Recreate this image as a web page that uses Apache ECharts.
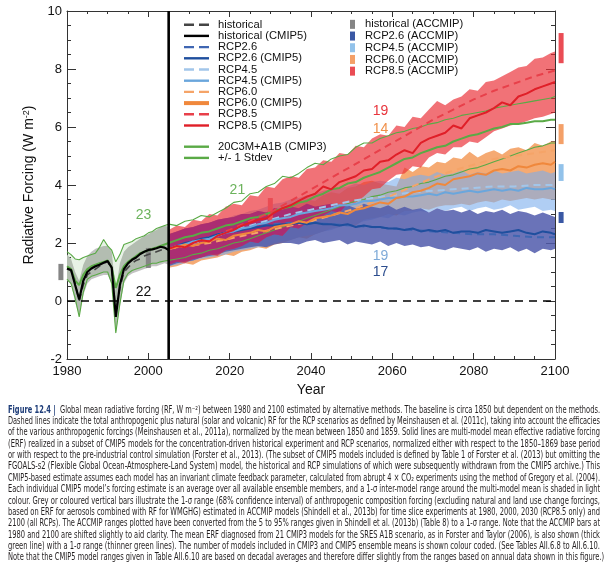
<!DOCTYPE html>
<html><head><meta charset="utf-8">
<script src="https://cdn.jsdelivr.net/npm/echarts@6/dist/echarts.min.js"></script>
<style>html,body{margin:0;padding:0;background:#fff}#c{width:607px;height:580px}</style>
</head><body><div id="c"></div>
<script>
// ---------------- DATA ----------------
const histYears = [1980,1981,1982,1983,1984,1985,1986,1987,1988,1989,1990,1991,1992,1993,1994,1995,1996,1997,1998,1999,2000,2001,2002,2003,2004,2005];
const histRF   = [1.1,1.05,0.6,0.0,0.55,0.9,1.0,1.1,1.2,1.3,1.35,1.1,-0.35,0.45,1.0,1.15,1.3,1.4,1.45,1.55,1.6,1.65,1.7,1.75,1.8,1.8];
const histERF  = [1.12,1.07,0.55,0.05,0.7,1.0,1.12,1.2,1.25,1.32,1.38,1.15,-0.55,0.55,1.1,1.3,1.42,1.5,1.62,1.7,1.76,1.78,1.82,1.87,1.84,1.76];
const histHi   = [1.6,1.45,1.0,0.7,1.25,1.55,1.7,1.8,1.85,1.9,1.9,1.7,0.35,1.3,1.7,1.85,1.95,2.05,2.15,2.25,2.3,2.4,2.45,2.55,2.6,2.55];
const histLo   = [0.7,0.6,-0.05,-0.5,0.2,0.6,0.75,0.8,0.85,0.9,0.9,0.6,-1.15,-0.2,0.6,0.85,0.95,1.0,1.05,1.1,1.15,1.2,1.2,1.25,1.3,1.25];

// CMIP3 (1980-2004 annual)
const g3HistYears = [1980,1981,1982,1983,1984,1985,1986,1987,1988,1989,1990,1991,1992,1993,1994,1995,1996,1997,1998,1999,2000,2001,2002,2003,2004];
const g3HistMean = [1.2,1.1,0.7,0.55,0.9,1.1,1.2,1.25,1.3,1.35,1.4,1.15,0.45,0.9,1.2,1.35,1.45,1.55,1.65,1.7,1.75,1.8,1.85,1.9,1.95];
const g3HistHi   = [1.7,1.6,1.45,1.42,1.5,1.55,1.6,1.65,1.85,2.12,1.9,1.75,1.35,1.6,1.95,2.0,2.05,2.15,2.2,2.25,2.35,2.4,2.5,2.55,2.6];
const g3HistLo   = [0.75,0.6,0.1,-0.55,0.3,0.75,0.85,0.9,0.95,1.0,1.0,0.6,-1.1,-0.1,0.7,0.95,1.05,1.1,1.15,1.2,1.25,1.3,1.3,1.35,1.38];

const projYears = [2005,2007,2009,2011,2013,2015,2017,2019,2021,2023,2025,2027,2029,2031,2033,2035,2037,2039,2041,2043,2045,2047,2049,2051,2053,2055,2057,2059,2061,2063,2065,2067,2069,2071,2073,2075,2077,2079,2081,2083,2085,2087,2089,2091,2093,2095,2097,2099,2100];

const g3Mean = [2.0,2.1,2.2,2.25,2.35,2.4,2.5,2.6,2.65,2.75,2.85,2.9,3.0,3.1,3.2,3.25,3.4,3.45,3.6,3.7,3.85,3.9,4.05,4.1,4.25,4.35,4.45,4.6,4.75,4.9,4.95,5.1,5.2,5.3,5.35,5.5,5.6,5.7,5.75,5.85,5.95,6.0,6.1,6.1,6.15,6.2,6.2,6.25,6.25];
const g3Hi   = [2.65,2.6,2.75,2.8,2.95,2.9,3.05,3.2,3.4,3.45,3.7,3.75,3.95,4.05,4.3,4.25,4.4,4.6,4.75,4.7,4.9,5.0,5.05,5.3,5.45,5.45,5.6,5.7,5.8,5.85,5.95,6.0,6.1,6.15,6.25,6.3,6.4,6.45,6.5,6.55,6.65,6.7,6.75,6.8,6.85,6.9,6.95,7.0,7.05];
const g3Lo   = [1.4,1.45,1.5,1.6,1.65,1.75,1.8,1.9,2.0,2.05,2.15,2.25,2.35,2.45,2.55,2.65,2.75,2.85,2.95,3.05,3.15,3.25,3.35,3.45,3.5,3.6,3.65,3.75,3.8,3.9,3.95,4.05,4.1,4.2,4.3,4.35,4.45,4.55,4.6,4.7,4.8,4.9,5.0,5.1,5.2,5.3,5.35,5.45,5.45];

const r85Hi   = [2.45,2.6,2.55,2.8,2.75,3.0,2.95,3.25,3.35,3.3,3.65,3.6,3.95,3.9,4.2,4.3,4.25,4.55,4.6,4.85,4.8,5.1,5.05,5.35,5.3,5.6,5.75,5.7,6.05,6.0,6.35,6.3,6.6,6.9,6.75,6.95,7.05,7.3,7.25,7.55,7.6,7.75,7.9,8.05,8.1,8.35,8.4,8.55,8.6];
const r85Lo   = [1.25,1.35,1.3,1.45,1.5,1.6,1.55,1.75,1.8,1.9,2.05,2.0,2.2,2.3,2.25,2.55,2.5,2.7,2.8,2.95,3.1,3.05,3.35,3.4,3.6,3.85,3.9,4.15,4.35,4.4,4.65,4.6,4.95,5.1,5.05,5.3,5.3,5.5,5.45,5.65,5.85,5.95,6.05,6.1,6.2,6.3,6.35,6.45,6.5];
const r85Mean = [1.8,1.9,1.85,2.0,2.1,2.05,2.25,2.35,2.45,2.6,2.7,2.8,2.85,3.05,3.2,3.3,3.45,3.6,3.7,3.95,3.85,4.1,4.2,4.3,4.5,4.55,4.8,4.85,5.05,5.2,5.1,5.45,5.6,5.7,5.8,6.05,5.95,6.3,6.4,6.5,6.65,6.85,6.75,7.05,7.15,7.3,7.4,7.5,7.55];

const r60Hi   = [2.3,2.35,2.5,2.45,2.6,2.7,2.65,2.8,2.85,2.9,3.0,3.05,3.0,3.2,3.15,3.35,3.4,3.5,3.45,3.65,3.75,3.7,3.9,3.95,4.1,4.15,4.05,4.0,3.95,4.6,4.45,4.65,4.6,4.8,4.75,4.95,4.9,5.15,4.95,5.1,5.2,5.05,5.25,5.3,5.2,5.45,5.35,5.5,5.5];
const r60Lo   = [1.15,1.2,1.3,1.25,1.4,1.45,1.5,1.6,1.55,1.7,1.75,1.85,1.8,1.95,2.0,2.1,2.2,2.15,2.3,2.4,2.5,2.55,2.65,2.6,2.8,2.85,2.9,3.0,2.95,3.1,3.1,3.2,3.15,3.25,3.3,3.3,3.35,3.3,3.4,3.45,3.4,3.5,3.45,3.5,3.55,3.5,3.55,3.5,3.5];
const r60Mean = [1.8,1.85,1.95,1.9,2.0,2.05,2.15,2.1,2.25,2.3,2.35,2.45,2.4,2.55,2.6,2.65,2.75,2.7,2.85,2.9,2.95,3.05,3.0,3.15,3.2,3.3,3.4,3.35,3.55,3.6,3.75,3.8,3.9,4.05,4.0,4.2,4.25,4.3,4.4,4.35,4.5,4.55,4.5,4.65,4.6,4.7,4.75,4.7,4.8];

const r45Hi   = [2.3,2.35,2.45,2.5,2.6,2.7,2.75,2.8,2.95,3.0,3.1,3.15,3.25,3.35,3.4,3.5,3.55,3.65,3.7,3.8,3.85,3.9,3.95,4.05,4.0,4.1,4.15,4.1,4.25,4.2,4.3,4.35,4.3,4.45,4.35,4.4,4.5,4.35,4.45,4.4,4.5,4.4,4.45,4.5,4.4,4.45,4.5,4.4,4.45];
const r45Lo   = [1.2,1.25,1.3,1.4,1.45,1.5,1.55,1.6,1.7,1.75,1.8,1.85,1.9,2.0,2.05,2.1,2.2,2.25,2.3,2.4,2.45,2.55,2.6,2.65,2.75,2.8,2.9,2.85,3.0,2.95,3.05,3.1,3.05,3.2,3.1,3.2,3.25,3.1,3.2,3.25,3.15,3.2,3.3,3.15,3.2,3.25,3.1,3.15,3.1];
const r45Mean = [1.8,1.9,1.95,2.05,2.1,2.15,2.25,2.35,2.4,2.5,2.55,2.65,2.7,2.8,2.85,2.9,3.0,3.05,3.1,3.15,3.2,3.3,3.3,3.35,3.45,3.45,3.5,3.55,3.55,3.6,3.6,3.65,3.7,3.65,3.75,3.7,3.75,3.8,3.75,3.8,3.85,3.8,3.85,3.8,3.9,3.85,3.85,3.9,3.85];

const r26Hi   = [2.3,2.4,2.5,2.55,2.65,2.7,2.8,2.85,2.9,3.0,3.0,3.1,3.05,3.2,3.15,3.25,3.2,3.35,3.25,3.3,3.35,3.25,3.3,3.2,3.35,3.25,3.2,3.3,3.15,3.25,3.15,3.2,3.05,3.2,3.1,3.15,3.05,3.15,3.0,3.1,3.05,3.15,3.0,3.1,3.05,2.95,3.05,2.95,2.9];
const r26Lo   = [1.2,1.3,1.35,1.4,1.5,1.55,1.6,1.7,1.75,1.8,1.85,1.9,1.85,1.95,2.0,2.0,1.95,2.05,2.1,2.0,2.05,2.1,1.95,2.05,2.0,1.95,2.05,1.9,2.0,1.9,1.95,1.85,1.9,1.8,1.75,1.85,1.8,1.75,1.85,1.7,1.8,1.75,1.85,1.7,1.8,1.65,1.8,1.75,1.8];
const r26Mean = [1.8,1.9,2.0,2.05,2.15,2.2,2.3,2.35,2.4,2.45,2.5,2.55,2.6,2.6,2.65,2.65,2.7,2.65,2.7,2.65,2.65,2.6,2.65,2.55,2.6,2.55,2.55,2.5,2.5,2.45,2.5,2.4,2.45,2.4,2.45,2.35,2.4,2.4,2.35,2.45,2.4,2.35,2.4,2.45,2.35,2.3,2.4,2.35,2.3];

// RCP radiative forcing (Meinshausen), dashed
const rfYears = [2005,2010,2015,2020,2025,2030,2035,2040,2045,2050,2055,2060,2065,2070,2075,2080,2085,2090,2095,2100];
const r26RF = [1.8,2.0,2.2,2.4,2.55,2.65,2.7,2.7,2.65,2.6,2.55,2.5,2.45,2.4,2.35,2.3,2.3,2.25,2.2,2.2];
const r45RF = [1.8,1.95,2.15,2.4,2.6,2.8,3.0,3.15,3.3,3.45,3.55,3.65,3.75,3.8,3.85,3.9,3.95,3.95,4.0,4.0];
const r60RF = [1.8,1.9,2.0,2.15,2.3,2.45,2.6,2.75,2.95,3.15,3.4,3.65,3.95,4.25,4.5,4.7,4.9,5.0,5.1,5.2];
const r85RF = [1.8,2.0,2.2,2.45,2.75,3.05,3.45,3.85,4.25,4.65,5.05,5.45,5.85,6.25,6.6,6.95,7.25,7.5,7.75,7.95];

// ACCMIP 1-sigma bars (year, low, high)
const accHistX = [1978.5, 2000];   const accHistLo = [0.72, 1.14]; const accHistHi = [1.28, 1.83];
const acc26X = [2101.5]; const acc26Lo = [2.69]; const acc26Hi = [3.07];
const acc45X = [2101.5]; const acc45Lo = [4.14]; const acc45Hi = [4.72];
const acc60X = [2101.5]; const acc60Lo = [5.41]; const acc60Hi = [6.10];
const acc85X = [2030, 2101.5]; const acc85Lo = [2.79, 8.20]; const acc85Hi = [3.55, 9.24];

// model-count annotations
const numX = [1998.8, 1998.8, 2021.9, 2057.1, 2057.1, 2057.1, 2057.1];
const numY = [2.97, 0.31, 3.83, 6.53, 5.93, 1.53, 0.98];
const numText = ['23','22','21','19','14','19','17'];

// ---------------- STYLE ----------------
const FONT = "'Liberation Sans', Arial, Helvetica, sans-serif";
const numColor = ['#6cb35c','#111111','#6cb35c','#e8343c','#f0904a','#7eaad8','#2c4d8e'];
const C = {
  hist:'#000000', histD:'#444444',
  r26:'#1f4f9e', r26d:'#3f66b2',
  r45:'#6aa6dc', r45d:'#a2c6ea',
  r60:'#f0883c', r60d:'#f5a468',
  r85:'#e01f28', r85d:'#e8404a',
  green:'#5aaa46'
};

const P = (xs, ys) => xs.map((x, i) => [x, ys[i]]);
// shaded range drawn as one polygon through the axes' own coordinate mapping
function band(id, xs, lo, hi, color, opacity) {
  return {type:'custom', name:id, silent:true, data:[[xs[0], lo[0]]],
    renderItem: function (params, api) {
      const pts = [];
      for (let i = 0; i < xs.length; i++) pts.push(api.coord([xs[i], hi[i]]));
      for (let i = xs.length - 1; i >= 0; i--) pts.push(api.coord([xs[i], lo[i]]));
      return {type:'polygon', shape:{points:pts}, style:{fill:color, opacity:opacity}};
    }};
}
function line(name, xs, ys, color, width, dash) {
  return {type:'line', name:name, data:P(xs, ys), symbol:'none', showSymbol:false, color:color,
    itemStyle:{color:color}, lineStyle:{color:color, width:width, type: dash ? [7,5] : 'solid'},
    silent:true, emphasis:{disabled:true}};
}
function accBars(name, xs, lo, hi, color) {
  return {type:'custom', name:name, color:color, itemStyle:{color:color}, silent:true,
    data: xs.map((x, i) => [x, lo[i], hi[i]]),
    renderItem: function (params, api) {
      const a = api.coord([api.value(0), api.value(2)]);
      const b = api.coord([api.value(0), api.value(1)]);
      return {type:'rect', shape:{x:a[0]-2.5, y:a[1], width:5, height:b[1]-a[1]}, style:{fill:color}};
    }};
}
// overlap of the RCP8.5 and RCP2.6 ranges (shown in the figure as a blended magenta)
const ovLo = r85Lo.map((v, i) => Math.max(v, r26Lo[i]));
const ovHi = r85Hi.map((v, i) => Math.max(ovLo[i], Math.min(v, r26Hi[i])));

const g3Years = g3HistYears.concat(projYears);
const series = [
  band('hb', histYears, histLo, histHi, '#c3c3c3', 1),
  band('gb', histYears, g3HistLo.concat([g3Lo[0]]), g3HistHi.concat([g3Hi[0]]), '#4f9a3f', 0.13),
  band('b60', projYears, r60Lo, r60Hi, 'rgb(245,170,115)', 1),
  band('b45', projYears, r45Lo, r45Hi, 'rgb(123,173,237)', 0.6),
  band('b26', projYears, r26Lo, r26Hi, 'rgb(80,90,172)', 0.85),
  line('+/- 1 Stdev', g3Years, g3HistHi.concat(g3Hi), C.green, 1.1, false),
  line('+/- 1 Stdev', g3Years, g3HistLo.concat(g3Lo), C.green, 1.1, false),
  line('20C3M+A1B (CMIP3)', g3Years, g3HistMean.concat(g3Mean), C.green, 2, false),
  band('b85', projYears, r85Lo, r85Hi, 'rgb(234,44,52)', 0.67),
  band('ov', projYears, ovLo, ovHi, 'rgb(168,42,118)', 0.85),
  line('RCP2.6', rfYears, r26RF, C.r26d, 2, true),
  line('RCP4.5', rfYears, r45RF, C.r45d, 2, true),
  line('RCP6.0', rfYears, r60RF, C.r60d, 2, true),
  line('RCP8.5', rfYears, r85RF, C.r85d, 2, true),
  line('RCP2.6 (CMIP5)', projYears, r26Mean, C.r26, 2, false),
  line('RCP4.5 (CMIP5)', projYears, r45Mean, C.r45, 2, false),
  line('RCP6.0 (CMIP5)', projYears, r60Mean, C.r60, 2, false),
  line('RCP8.5 (CMIP5)', projYears, r85Mean, C.r85, 2, false),
  line('historical', histYears, histRF, C.histD, 1.6, true),
  line('historical (CMIP5)', histYears, histERF, C.hist, 2.2, false),
  {type:'line', name:'zero', data:[[1980,0],[2100,0]], symbol:'none', silent:true,
   lineStyle:{color:'#000', width:1.3, type:[8,6]}},
  {type:'line', name:'v2005', data:[[2005,-2],[2005,10]], symbol:'none', silent:true,
   lineStyle:{color:'#000', width:2.6}},
  accBars('historical (ACCMIP)', accHistX, accHistLo, accHistHi, '#858585'),
  accBars('RCP2.6 (ACCMIP)', acc26X, acc26Lo, acc26Hi, '#3a58a4'),
  accBars('RCP4.5 (ACCMIP)', acc45X, acc45Lo, acc45Hi, '#92c2ea'),
  accBars('RCP6.0 (ACCMIP)', acc60X, acc60Lo, acc60Hi, '#f4a068'),
  accBars('RCP8.5 (ACCMIP)', acc85X, acc85Lo, acc85Hi, '#ea4c54'),
  {type:'custom', name:'nums', silent:true, data: numX.map((x, i) => [x, numY[i], i]),
   renderItem: function (params, api) {
     const p = api.coord([api.value(0), api.value(1)]);
     const k = api.value(2);
     return {type:'text', x:p[0], y:p[1], style:{text:numText[k], fill:numColor[k], fontSize:14,
       fontFamily:FONT, align:'center', verticalAlign:'middle'}};
   }}
];

const DASH = 'path://M0,0H10V2.4H0Z M15,0H25V2.4H15Z';
const SOLID = 'path://M0,0H25V2.4H0Z';
const THICK = 'path://M0,0H25V4H0Z';
const legTxt = {fontSize:11.2, fontFamily:FONT, color:'#111', lineHeight:11.2, padding:[0,0,0,4]};
const legendA = {
  orient:'vertical', left:184, top:19.1, padding:0, itemGap:0, itemWidth:25, itemHeight:11,
  selectedMode:false, itemStyle:{borderWidth:0}, textStyle:legTxt,
  data:[
    {name:'historical', icon:DASH, itemStyle:{color:C.histD}},
    {name:'historical (CMIP5)', icon:SOLID, itemStyle:{color:C.hist}},
    {name:'RCP2.6', icon:DASH, itemStyle:{color:C.r26d}},
    {name:'RCP2.6 (CMIP5)', icon:SOLID, itemStyle:{color:C.r26}},
    {name:'RCP4.5', icon:DASH, itemStyle:{color:C.r45d}},
    {name:'RCP4.5 (CMIP5)', icon:SOLID, itemStyle:{color:C.r45}},
    {name:'RCP6.0', icon:DASH, itemStyle:{color:C.r60d}},
    {name:'RCP6.0 (CMIP5)', icon:THICK, itemStyle:{color:C.r60}},
    {name:'RCP8.5', icon:DASH, itemStyle:{color:C.r85d}},
    {name:'RCP8.5 (CMIP5)', icon:SOLID, itemStyle:{color:C.r85}}
  ]
};
const legendB = {
  orient:'vertical', left:184, top:141.1, padding:0, itemGap:0, itemWidth:25, itemHeight:11,
  selectedMode:false, itemStyle:{borderWidth:0}, textStyle:legTxt,
  data:[
    {name:'20C3M+A1B (CMIP3)', icon:SOLID, itemStyle:{color:C.green}},
    {name:'+/- 1 Stdev', icon:SOLID, itemStyle:{color:C.green}}
  ]
};
const legendC = {
  orient:'vertical', left:350, top:18.5, padding:0, itemGap:0, itemWidth:5, itemHeight:9,
  selectedMode:false, itemStyle:{borderWidth:0},
  textStyle:{fontSize:11.2, fontFamily:FONT, color:'#111', lineHeight:11.7, padding:[0,0,0,5]},
  data:[
    {name:'historical (ACCMIP)', icon:'rect', itemStyle:{color:'#858585'}},
    {name:'RCP2.6 (ACCMIP)', icon:'rect', itemStyle:{color:'#3a58a4'}},
    {name:'RCP4.5 (ACCMIP)', icon:'rect', itemStyle:{color:'#92c2ea'}},
    {name:'RCP6.0 (ACCMIP)', icon:'rect', itemStyle:{color:'#f4a068'}},
    {name:'RCP8.5 (ACCMIP)', icon:'rect', itemStyle:{color:'#ea4c54'}}
  ]
};

const axCol = '#333';
const xBase = {type:'value', min:1980, max:2100, interval:20, splitLine:{show:false},
  axisLine:{show:true, onZero:false, lineStyle:{color:axCol, width:1}},
  axisTick:{show:true, inside:true, length:6, lineStyle:{color:axCol}},
  minorTick:{show:true, splitNumber:4, length:3, lineStyle:{color:axCol}}};
const yBase = {type:'value', min:-2, max:10, interval:2, splitLine:{show:false},
  axisLine:{show:true, onZero:false, lineStyle:{color:axCol, width:1}},
  axisTick:{show:true, inside:true, length:9, lineStyle:{color:axCol}},
  minorTick:{show:true, splitNumber:4, length:4, lineStyle:{color:axCol}}};

const option = {
  animation:false,
  textStyle:{fontFamily:FONT},
  grid:{left:67, right:52, top:11, bottom:221, containLabel:false, outerBoundsMode:'none'},
  xAxis:[
    Object.assign({}, xBase, {position:'bottom',
      axisLabel:{fontSize:13, color:'#111', margin:6, fontFamily:FONT, formatter: v => String(v)},
      name:'Year', nameLocation:'middle', nameGap:19, nameTextStyle:{fontSize:14, color:'#111', fontFamily:FONT}}),
    Object.assign({}, xBase, {position:'top', axisLabel:{show:false}})
  ],
  yAxis:[
    Object.assign({}, yBase, {position:'left',
      axisLabel:{fontSize:13, color:'#111', margin:5, fontFamily:FONT, formatter: v => String(v)},
      name:'{t|Radiative Forcing (W m}{s|-2}{t|)}', nameLocation:'middle', nameGap:29, nameRotate:90,
      nameTextStyle:{fontSize:14, color:'#111', fontFamily:FONT,
        rich:{t:{fontSize:14, fontFamily:FONT, color:'#111', lineHeight:16},
              s:{fontSize:9, fontFamily:FONT, color:'#111', lineHeight:16, verticalAlign:'top'}}}}),
    Object.assign({}, yBase, {position:'right', axisLabel:{show:false}})
  ],
  legend:[legendA, legendB, legendC],
  series: series
};

const chart = echarts.init(document.getElementById('c'), null, {renderer:'canvas', width:607, height:580});
chart.setOption(option);

// ---------------- CAPTION ----------------
const capBold = 'Figure 12.4 |';
const capLines = [
  '  Global mean radiative forcing (RF, W m\u207B\u00B2) between 1980 and 2100 estimated by alternative methods. The baseline is circa 1850 but dependent on the methods.',
  'Dashed lines indicate the total anthropogenic plus natural (solar and volcanic) RF for the RCP scenarios as defined by Meinshausen et al. (2011c), taking into account the efficacies',
  'of the various anthropogenic forcings (Meinshausen et al., 2011a), normalized by the mean between 1850 and 1859. Solid lines are multi-model mean effective radiative forcing',
  '(ERF) realized in a subset of CMIP5 models for the concentration-driven historical experiment and RCP scenarios, normalized either with respect to the 1850\u20131869 base period',
  'or with respect to the pre-industrial control simulation (Forster et al., 2013). (The subset of CMIP5 models included is defined by Table 1 of Forster et al. (2013) but omitting the',
  'FGOALS-s2 (Flexible Global Ocean-Atmosphere-Land System) model, the historical and RCP simulations of which were subsequently withdrawn from the CMIP5 archive.) This',
  'CMIP5-based estimate assumes each model has an invariant climate feedback parameter, calculated from abrupt 4 \u00D7 CO\u2082 experiments using the method of Gregory et al. (2004).',
  'Each individual CMIP5 model\u2019s forcing estimate is an average over all available ensemble members, and a 1-\u03C3 inter-model range around the multi-model mean is shaded in light',
  'colour. Grey or coloured vertical bars illustrate the 1-\u03C3 range (68% confidence interval) of anthropogenic composition forcing (excluding natural and land use change forcings,',
  'based on ERF for aerosols combined with RF for WMGHG) estimated in ACCMIP models (Shindell et al., 2013b) for time slice experiments at 1980, 2000, 2030 (RCP8.5 only) and',
  '2100 (all RCPs). The ACCMIP ranges plotted have been converted from the 5 to 95% ranges given in Shindell et al. (2013b) (Table 8) to a 1-\u03C3 range. Note that the ACCMIP bars at',
  '1980 and 2100 are shifted slightly to aid clarity. The mean ERF diagnosed from 21 CMIP3 models for the SRES A1B scenario, as in Forster and Taylor (2006), is also shown (thick',
  'green line) with a 1-\u03C3 range (thinner green lines). The number of models included in CMIP3 and CMIP5 ensemble means is shown colour coded. (See Tables AII.6.8 to AII.6.10.',
  'Note that the CMIP5 model ranges given in Table AII.6.10 are based on decadal averages and therefore differ slightly from the ranges based on annual data shown in this figure.)'
];
const capFamily = "'Liberation Sans Narrow','DejaVu Sans Condensed','Liberation Sans',sans-serif";
const capSize = 9.6;
const ctx = document.createElement('canvas').getContext('2d');
function mw(t, bold) { ctx.font = (bold ? 'bold ' : '') + capSize + 'px ' + capFamily; return ctx.measureText(t).width; }
const capL = 8, capR = 600, capTop = 410, capPitch = 11.38;
const scales = capLines.map((t, i) => {
  const w = (i === 0 ? mw(capBold, true) : 0) + mw(t, false);
  return (capR - capL) / w;
});
const avgScale = scales.slice(0, 13).reduce((a, b) => a + b, 0) / 13;
const gfx = [];
capLines.forEach((t, i) => {
  const s = i === 13 ? avgScale : scales[i];
  const y = capTop + i * capPitch;
  let x = capL;
  if (i === 0) {
    gfx.push({type:'text', x:x, y:y, scaleX:s, silent:true,
      style:{text:capBold, fontSize:capSize, fontWeight:'bold', fontFamily:capFamily, fill:'#1d3c78', verticalAlign:'middle'}});
    x += mw(capBold, true) * s;
  }
  gfx.push({type:'text', x:x, y:y, scaleX:s, silent:true,
    style:{text:t, fontSize:capSize, fontFamily:capFamily, fill:'#231f20', verticalAlign:'middle'}});
});
chart.setOption({graphic:gfx});
</script>
</body></html>
